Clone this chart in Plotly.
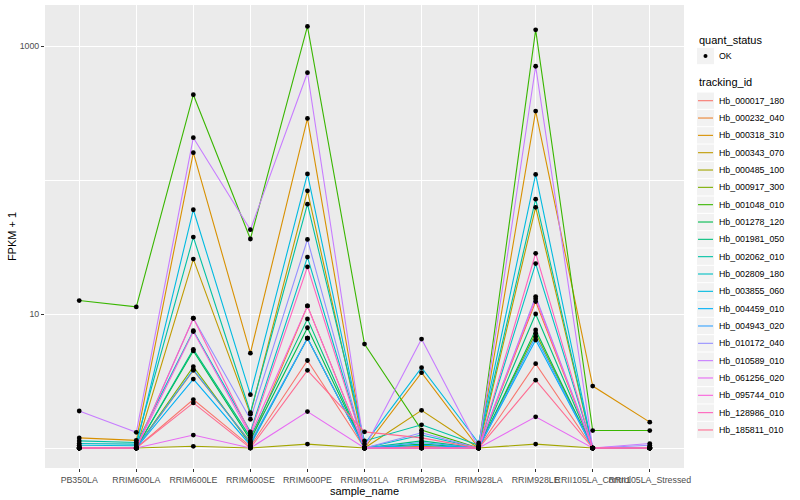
import plotly.graph_objects as go

samples = ["PB350LA", "RRIM600LA", "RRIM600LE", "RRIM600SE", "RRIM600PE", "RRIM901LA",
           "RRIM928BA", "RRIM928LA", "RRIM928LE", "RRII105LA_Control", "RRII105LA_Stressed"]

tracking_ids = ["Hb_000017_180", "Hb_000232_040", "Hb_000318_310", "Hb_000343_070", "Hb_000485_100",
                "Hb_000917_300", "Hb_001048_010", "Hb_001278_120", "Hb_001981_050", "Hb_002062_010",
                "Hb_002809_180", "Hb_003855_060", "Hb_004459_010", "Hb_004943_020", "Hb_010172_040",
                "Hb_010589_010", "Hb_061256_020", "Hb_095744_010", "Hb_128986_010", "Hb_185811_010"]

colors = ["#F8766D", "#EA8331", "#D89000", "#C09B00", "#A3A500", "#7CAE00", "#39B600", "#00BB4E",
          "#00BF7D", "#00C1A3", "#00BFC4", "#00BAE0", "#00B0F6", "#35A2FF", "#9590FF", "#C77CFF",
          "#E76BF3", "#FA62DB", "#FF62BC", "#FF6C91"]

# FPKM + 1 values, one list per tracking_id, in sample order
fpkm = {
    "Hb_000017_180": [1.0, 1.0, 2.3, 1.03, 4.5, 1.0, 1.0, 1.0, 4.26, 1.0, 1.0],
    "Hb_000232_040": [1.0, 1.0, 3.8, 1.11, 11.5, 1.0, 1.03, 1.0, 12.4, 1.0, 1.0],
    "Hb_000318_310": [1.19, 1.14, 160, 5.1, 288, 1.0, 3.65, 1.0, 327, 2.9, 1.56],
    "Hb_000343_070": [1.0, 1.0, 25.7, 1.79, 83, 1.0, 1.91, 1.0, 62.6, 1.0, 1.0],
    "Hb_000485_100": [1.0, 1.0, 1.03, 1.0, 1.07, 1.0, 1.0, 1.0, 1.07, 1.0, 1.0],
    "Hb_000917_300": [1.0, 1.0, 4.05, 1.07, 6.6, 1.0, 1.0, 1.0, 7.2, 1.0, 1.0],
    "Hb_001048_010": [12.6, 11.3, 433, 36.3, 1400, 5.97, 1.36, 1.0, 1320, 1.35, 1.35],
    "Hb_001278_120": [1.0, 1.0, 5.3, 1.15, 7.9, 1.0, 1.07, 1.0, 7.6, 1.0, 1.0],
    "Hb_001981_050": [1.0, 1.0, 5.45, 1.2, 9.2, 1.0, 1.13, 1.0, 10.0, 1.0, 1.0],
    "Hb_002062_010": [1.13, 1.1, 37.5, 1.84, 66, 1.13, 1.49, 1.05, 72, 1.0, 1.0],
    "Hb_002809_180": [1.08, 1.07, 7.5, 1.32, 26.6, 1.0, 1.25, 1.0, 23.8, 1.0, 1.0],
    "Hb_003855_060": [1.05, 1.04, 60, 2.5, 111, 1.07, 3.98, 1.09, 110, 1.0, 1.0],
    "Hb_004459_010": [1.0, 1.0, 3.27, 1.05, 6.6, 1.0, 1.05, 1.0, 6.4, 1.0, 1.0],
    "Hb_004943_020": [1.0, 1.0, 3.85, 1.1, 6.6, 1.0, 1.1, 1.0, 6.8, 1.0, 1.0],
    "Hb_010172_040": [1.0, 1.0, 9.3, 1.64, 36, 1.0, 1.3, 1.0, 13.5, 1.0, 1.05],
    "Hb_010589_010": [1.89, 1.31, 207, 42.6, 632, 1.0, 6.5, 1.0, 706, 1.0, 1.08],
    "Hb_061256_020": [1.0, 1.0, 1.25, 1.0, 1.87, 1.0, 1.0, 1.0, 1.71, 1.0, 1.0],
    "Hb_095744_010": [1.0, 1.0, 7.4, 1.24, 11.5, 1.0, 1.0, 1.0, 13.0, 1.0, 1.0],
    "Hb_128986_010": [1.0, 1.0, 9.3, 1.28, 22.5, 1.0, 1.0, 1.0, 28.4, 1.0, 1.0],
    "Hb_185811_010": [1.0, 1.0, 2.17, 1.0, 3.8, 1.32, 1.19, 1.0, 3.21, 1.0, 1.0],
}

FONT = "Liberation Sans, Arial, sans-serif"
W, H = 800, 500
ML, MR, MT, MB = 45, 116, 5, 32
PW, PH = W - ML - MR, H - MT - MB


def px(x):
    return (x - ML) / PW


def py(y):
    return (H - MB - y) / PH


fig = go.Figure()

for i, tid in enumerate(tracking_ids):
    fig.add_trace(go.Scatter(
        x=samples, y=fpkm[tid], mode="lines", name=tid,
        line=dict(color=colors[i], width=1.1), showlegend=False))

all_x, all_y = [], []
for tid in tracking_ids:
    all_x += samples
    all_y += fpkm[tid]
fig.add_trace(go.Scatter(x=all_x, y=all_y, mode="markers",
                         marker=dict(color="black", size=4.8), showlegend=False, hoverinfo="skip"))

# ---- manual ggplot-style legend ----
shapes, annots = [], []
key_x0, key_x1 = 697, 714
text_x = 717


def title(text, y):
    annots.append(dict(x=px(697), y=py(y), xref="paper", yref="paper", text=text, showarrow=False,
                       xanchor="left", yanchor="middle", font=dict(family=FONT, size=11, color="black")))


def label(text, y):
    annots.append(dict(x=px(text_x), y=py(y), xref="paper", yref="paper", text=text, showarrow=False,
                       xanchor="left", yanchor="middle", font=dict(family=FONT, size=8.8, color="black")))


def keybox(y, h=17.3):
    shapes.append(dict(type="rect", xref="paper", yref="paper", x0=px(key_x0), x1=px(key_x1),
                       y0=py(y - h / 2 + 0.5), y1=py(y + h / 2 - 0.5),
                       fillcolor="#F2F2F2", line=dict(width=0), layer="below"))


title("quant_status", 40)
keybox(56)
shapes.append(dict(type="circle", xref="paper", yref="paper", x0=px(703.5), x1=px(707.5),
                   y0=py(58), y1=py(54), fillcolor="black", line=dict(width=0)))
label("OK", 56)

title("tracking_id", 82)
step = 17.33
for i, tid in enumerate(tracking_ids):
    yc = 100.7 + i * step
    keybox(yc)
    shapes.append(dict(type="line", xref="paper", yref="paper", x0=px(698), x1=px(713),
                       y0=py(yc), y1=py(yc), line=dict(color=colors[i], width=1.1)))
    label(tid, yc)

fig.update_layout(
    width=W, height=H,
    margin=dict(l=ML, r=MR, t=MT, b=MB),
    plot_bgcolor="#EBEBEB", paper_bgcolor="white",
    font=dict(family=FONT, size=9, color="#4D4D4D"),
    showlegend=False,
    shapes=shapes, annotations=annots,
    xaxis=dict(type="category", categoryorder="array", categoryarray=samples,
               range=[-0.6, 10.6], showgrid=True, gridcolor="white", gridwidth=1.1,
               ticks="outside", ticklen=3, tickcolor="#333333", zeroline=False,
               tickangle=0, automargin=False,
               tickfont=dict(family=FONT, size=8.8, color="#4D4D4D"),
               title=dict(text="sample_name", font=dict(family=FONT, size=11, color="black"), standoff=2)),
    yaxis=dict(type="log", range=[-0.149, 3.306], tickvals=[10, 1000], ticktext=["10", "1000"],
               showgrid=True, gridcolor="white", gridwidth=1.1,
               ticks="outside", ticklen=3, tickcolor="#333333", zeroline=False, automargin=False,
               tickfont=dict(family=FONT, size=8.8, color="#4D4D4D"),
               minor=dict(tickvals=[1, 100], showgrid=True, gridcolor="white", gridwidth=0.5, ticks=""),
               title=dict(text="FPKM + 1", font=dict(family=FONT, size=11, color="black"), standoff=0)),
)

fig.write_html("out.html", config={"displayModeBar": False},
               post_script="document.body.style.margin='0';document.body.style.padding='0';")
